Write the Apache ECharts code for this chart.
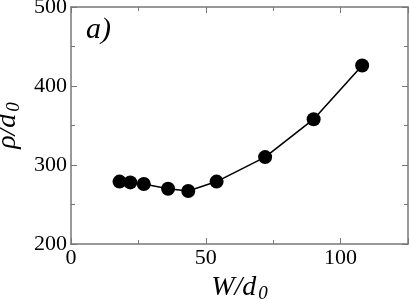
<!DOCTYPE html>
<html>
<head>
<meta charset="utf-8">
<script src="https://cdn.jsdelivr.net/npm/echarts@6/dist/echarts.min.js"></script>
<style>html,body{margin:0;padding:0;background:#fff}#c{width:409px;height:299px}</style>
</head>
<body>
<div id="c"></div>
<script>
var xValues = [18, 22, 27, 36, 43.5, 54, 72, 90, 108];
var yValues = [279, 278, 276, 270, 267, 279, 310, 358, 426];
var xTicks = [0, 50, 100];
var yTicks = [200, 300, 400, 500];

var FONT = '"Liberation Serif", "Times New Roman", Times, serif';
var data = xValues.map(function (x, i) { return [x, yValues[i]]; });
var axisColor = '#777';
var chart = echarts.init(document.getElementById('c'), null, {renderer: 'canvas'});
var baseX = {
  type: 'value', min: 0, max: 125, interval: 50,
  axisLine: {show: true, onZero: false, lineStyle: {color: axisColor, width: 1.5}},
  axisTick: {show: true, inside: true, length: 6, lineStyle: {color: axisColor, width: 1}},
  minorTick: {show: true, splitNumber: 2, length: 4, lineStyle: {color: axisColor, width: 1}},
  splitLine: {show: false}
};
var baseY = {
  type: 'value', min: 200, max: 500, interval: 100,
  axisLine: {show: true, onZero: false, lineStyle: {color: axisColor, width: 1.5}},
  axisTick: {show: true, inside: true, length: 6, lineStyle: {color: axisColor, width: 1}},
  minorTick: {show: true, splitNumber: 2, length: 4, lineStyle: {color: axisColor, width: 1}},
  splitLine: {show: false}
};
var subStyle = {fontFamily: FONT, fontStyle: 'italic', fontSize: 19, color: '#000', padding: [12, 0, 0, 2]};
chart.setOption({
  animation: false,
  backgroundColor: '#fff',
  title: {
    text: 'a)', left: 81, top: 10,
    textStyle: {fontFamily: FONT, fontStyle: 'italic', fontWeight: 'normal', fontSize: 30, color: '#000'}
  },
  grid: {left: 71, right: 1, top: 7, bottom: 55, containLabel: false, outerBoundsMode: 'none'},
  xAxis: [
    Object.assign({}, baseX, {
      position: 'bottom',
      axisLabel: {show: true, margin: 3, fontFamily: FONT, fontSize: 22, color: '#000',
        formatter: function (v) { return xTicks.indexOf(v) >= 0 ? String(v) : ''; }},
      name: 'W/d{sub|0}', nameLocation: 'middle', nameGap: 16,
      nameTextStyle: {fontFamily: FONT, fontStyle: 'italic', fontSize: 28, color: '#000',
        rich: {sub: subStyle}}
    }),
    Object.assign({}, baseX, {position: 'top', axisLabel: {show: false}})
  ],
  yAxis: [
    Object.assign({}, baseY, {
      position: 'left',
      axisLabel: {show: true, margin: 4, fontFamily: FONT, fontSize: 22, color: '#000',
        formatter: function (v) { return yTicks.indexOf(v) >= 0 ? String(v) : ''; }},
      name: 'ρ/d{sub|0}', nameLocation: 'middle', nameGap: 37,
      nameTextStyle: {fontFamily: FONT, fontStyle: 'italic', fontSize: 28, color: '#000',
        rich: {sub: subStyle}}
    }),
    Object.assign({}, baseY, {position: 'right', axisLabel: {show: false}})
  ],
  series: [{
    type: 'line', xAxisIndex: 0, yAxisIndex: 0, data: data,
    symbol: 'circle', symbolSize: 14,
    itemStyle: {color: '#000'},
    lineStyle: {color: '#000', width: 1.6}
  }]
});
</script>
</body>
</html>
